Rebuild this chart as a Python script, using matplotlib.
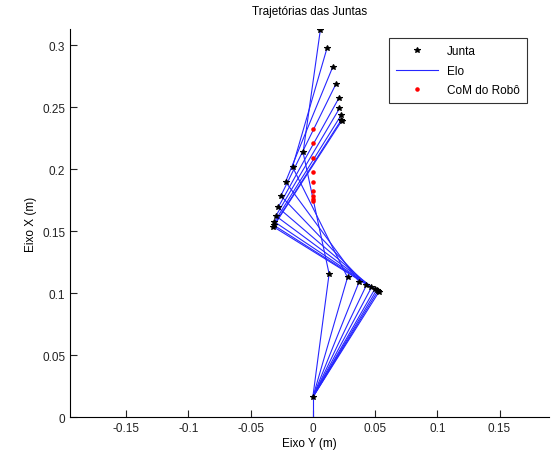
import numpy as np
import matplotlib.pyplot as plt

plt.rcParams['font.family'] = ['Liberation Sans', 'DejaVu Sans']

# joint positions per frame (x = Eixo Y, y = Eixo X)
base = (0.0, 0.016)
knee_x = [0.0131, 0.0279, 0.0372, 0.0431, 0.0471, 0.0498, 0.0512, 0.0522, 0.0530]
knee_y = [0.1156, 0.1127, 0.1091, 0.1065, 0.1046, 0.1032, 0.1024, 0.1016, 0.1008]
hip_x = [-0.0078, -0.0163, -0.0219, -0.0257, -0.0279, -0.0297, -0.0308, -0.0313, -0.0317]
hip_y = [0.2135, 0.2019, 0.1898, 0.1785, 0.1691, 0.1623, 0.1575, 0.1548, 0.1536]
top_x = [0.0060, 0.0115, 0.0160, 0.0187, 0.0210, 0.0214, 0.0227, 0.0230, 0.0232]
top_y = [0.3120, 0.2980, 0.2825, 0.2690, 0.2575, 0.2490, 0.2435, 0.2400, 0.2390]
com_x = [0.0005] * 9
com_y = [0.2328, 0.2212, 0.2094, 0.1978, 0.1898, 0.1823, 0.1785, 0.1758, 0.1744]

ground_x = [-0.05, 0.05]
ground_y = [0.0, 0.0]

fig = plt.figure(figsize=(5.56, 4.64), dpi=100)
ax = fig.add_axes([0.126, 0.099, 0.862, 0.836])

blue = '#2626ff'
ax.plot(ground_x, ground_y, color=blue, lw=0.8)
ax.plot([0, base[0]], [0, base[1]], color=blue, lw=0.8)
for i in range(len(knee_x)):
    xs = [base[0], knee_x[i], hip_x[i], top_x[i]]
    ys = [base[1], knee_y[i], hip_y[i], top_y[i]]
    ax.plot(xs, ys, color=blue, lw=0.8, label='Elo' if i == 0 else None)

jx = [base[0]] + knee_x + hip_x + top_x
jy = [base[1]] + knee_y + hip_y + top_y
ax.plot(jx, jy, '*', color='black', ms=4, mew=0.8, label='Junta', zorder=4)
ax.plot(com_x, com_y, '.', color='red', ms=4.5, label='CoM do Robô', zorder=5)

ax.set_xlim(-0.195, 0.19)
ax.set_ylim(0, 0.313)
ax.set_xticks([-0.15, -0.1, -0.05, 0, 0.05, 0.1, 0.15])
ax.set_xticklabels(['-0.15', '-0.1', '-0.05', '0', '0.05', '0.1', '0.15'])
ax.set_yticks([0, 0.05, 0.1, 0.15, 0.2, 0.25, 0.3])
ax.set_yticklabels(['0', '0.05', '0.1', '0.15', '0.2', '0.25', '0.3'])
ax.tick_params(direction='in', length=5, labelsize=8.5, colors='#222222')
ax.spines['top'].set_visible(False)
ax.spines['right'].set_visible(False)
ax.set_title('Trajetórias das Juntas', fontsize=8.5, pad=11)
ax.set_xlabel('Eixo Y (m)', fontsize=8.5, labelpad=2)
ax.set_ylabel('Eixo X (m)', fontsize=8.5, labelpad=4)

handles, labels = ax.get_legend_handles_labels()
order = [labels.index('Junta'), labels.index('Elo'), labels.index('CoM do Robô')]
leg = ax.legend([handles[k] for k in order], [labels[k] for k in order],
                loc='upper right', bbox_to_anchor=(0.948, 0.916),
                bbox_transform=fig.transFigure, fontsize=8.5, fancybox=False,
                edgecolor='black', handlelength=3.6, handletextpad=0.75,
                borderpad=0.6, labelspacing=0.65, borderaxespad=0)
leg.get_frame().set_linewidth(0.8)

fig.savefig('out.png', dpi=100)
